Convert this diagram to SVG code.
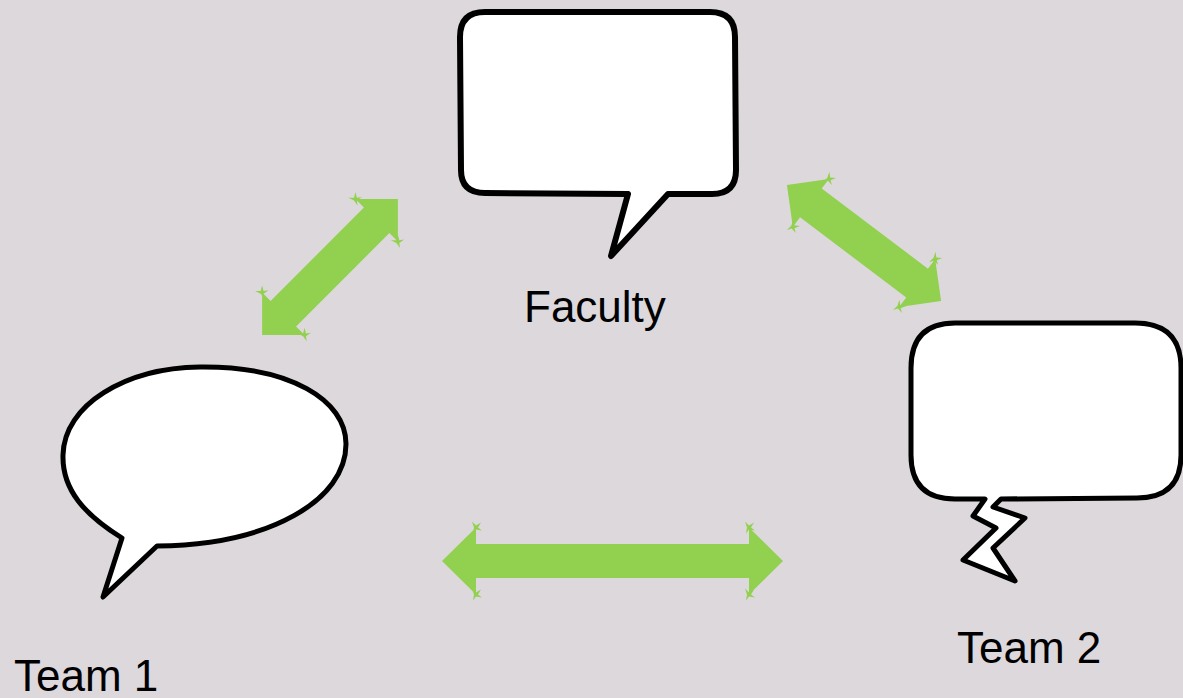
<svg xmlns="http://www.w3.org/2000/svg" width="1183" height="698" viewBox="0 0 1183 698">
<style>
.bubble{fill:#ffffff;stroke:#000000;stroke-width:5;stroke-linejoin:round;stroke-linecap:round}
.thick{stroke-width:6}
.arrow{fill:#92D050}
.label{font-family:"Liberation Sans",Arial,sans-serif;font-size:44px;fill:#000000}
</style>
<defs>
<g id="spike"><polygon points="-4,-6 0,-2 5,-5 2,0 6,3 0,2 -3,6 -2,0"/></g>
</defs>
<rect x="0" y="0" width="1183" height="698" fill="#DCD8DC"/>
<g id="faculty">
<path class="bubble thick" d="M 485,12 L 710,12 Q 735,12 735,37 L 736,170 Q 736,194 712,194 L 668,194 L 611,256 L 628,194 L 485,193 Q 461,193 461,170 L 460,37 Q 460,12 485,12 Z"/>
<text class="label" x="524" y="322">Faculty</text>
</g>
<g id="team1">
<path class="bubble" d="M 122,538 C 85,515 62,490 63,455 C 64,405 125,368 200,367 C 290,366 346,400 346,444 C 346,500 270,545 157,546 L 103,597 Z"/>
<text class="label" x="14" y="691">Team 1</text>
</g>
<g id="team2">
<path class="bubble" d="M 955,323 L 1135,323 Q 1181,323 1181,368 L 1181,455 Q 1181,498 1137,498 L 1001,499 L 993,507 L 1025,518 L 993,548 L 1015,581 L 963,560 L 996,528 L 973,516 L 985,499 L 955,499 Q 911,499 911,455 L 911,368 Q 911,323 955,323 Z"/>
<text class="label" x="957" y="663">Team 2</text>
</g>
<g id="connectors" class="arrow">
<g transform="translate(330,267) rotate(-45)">
<polygon points="-96,0 -66,-30 -66,-18 66,-18 66,-30 96,0 66,30 66,18 -66,18 -66,30"/>
<use href="#spike" x="-66" y="-30"/><use href="#spike" x="-66" y="30"/>
<use href="#spike" x="66" y="-30"/><use href="#spike" x="66" y="30"/>
</g>
<g transform="translate(864,243) rotate(37)">
<polygon points="-96.5,0 -66.5,-30 -66.5,-18 66.5,-18 66.5,-30 96.5,0 66.5,30 66.5,18 -66.5,18 -66.5,30"/>
<use href="#spike" x="-66.5" y="-30"/><use href="#spike" x="-66.5" y="30"/>
<use href="#spike" x="66.5" y="-30"/><use href="#spike" x="66.5" y="30"/>
</g>
<g transform="translate(612.5,561)">
<polygon points="-170.5,0 -136.5,-33.5 -136.5,-17 136.5,-17 136.5,-33.5 170.5,0 136.5,33.5 136.5,17 -136.5,17 -136.5,33.5"/>
<use href="#spike" x="-136.5" y="-33.5"/><use href="#spike" x="-136.5" y="33.5"/>
<use href="#spike" x="136.5" y="-33.5"/><use href="#spike" x="136.5" y="33.5"/>
</g>
</g>
</svg>
